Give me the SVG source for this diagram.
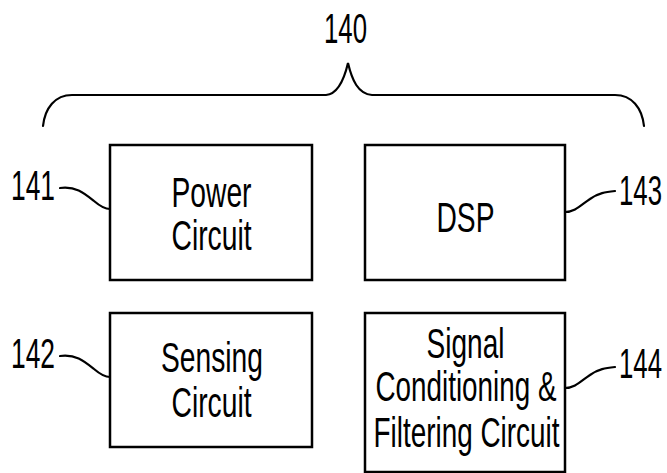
<svg xmlns="http://www.w3.org/2000/svg" width="667" height="473" viewBox="0 0 667 473">
<style>
.box{fill:#fff;stroke:#000;stroke-width:2.5}
.ln{fill:none;stroke:#000;stroke-width:2.2;stroke-linecap:round}
.t{font-family:"Liberation Sans",Arial,sans-serif;font-size:42px;fill:#000;text-anchor:middle}
.r{font-family:"Liberation Sans",Arial,sans-serif;font-size:42px;fill:#000}
</style>
<rect width="667" height="473" fill="#fff"/>
<g id="group140">
<path class="ln" d="M43,126 C45,108 55,95 72,95 L326,95 C338,94 344,80 348,63 C352,80 358,94 372,95 L615,95 C632,95 642,108 644,126"/>
<text class="r" x="324" y="43" textLength="43" lengthAdjust="spacingAndGlyphs">140</text>
</g>
<g id="connectors">
<path class="ln" d="M60,188 C76,186 84,193 94,201 C101,207 105,209 110,209"/>
<path class="ln" d="M60,356 C76,354 84,361 94,369 C101,375 105,377 110,377"/>
<path class="ln" d="M565,212 C575,212 581,205 590,199 C598,193 606,192 615,191"/>
<path class="ln" d="M565,388 C575,388 581,381 590,375 C598,369 606,368 615,367"/>
</g>
<g id="node141">
<rect class="box" x="110" y="145" width="202" height="135"/>
<text class="t" x="211.5" y="207" textLength="80" lengthAdjust="spacingAndGlyphs">Power</text>
<text class="t" x="211.5" y="250" textLength="80" lengthAdjust="spacingAndGlyphs">Circuit</text>
<text class="r" x="11" y="200" textLength="44" lengthAdjust="spacingAndGlyphs">141</text>
</g>
<g id="node142">
<rect class="box" x="110" y="313" width="202" height="134"/>
<text class="t" x="212" y="372" textLength="102" lengthAdjust="spacingAndGlyphs">Sensing</text>
<text class="t" x="211.5" y="417" textLength="80" lengthAdjust="spacingAndGlyphs">Circuit</text>
<text class="r" x="11" y="368" textLength="44" lengthAdjust="spacingAndGlyphs">142</text>
</g>
<g id="node143">
<rect class="box" x="365" y="145" width="200" height="135"/>
<text class="t" x="465.5" y="232" textLength="58" lengthAdjust="spacingAndGlyphs">DSP</text>
<text class="r" x="619" y="205" textLength="43" lengthAdjust="spacingAndGlyphs">143</text>
</g>
<g id="node144">
<rect class="box" x="365" y="313" width="200" height="159"/>
<text class="t" x="465.5" y="358" textLength="78" lengthAdjust="spacingAndGlyphs">Signal</text>
<text class="t" x="466" y="401" textLength="181" lengthAdjust="spacingAndGlyphs">Conditioning &amp;</text>
<text class="t" x="466.5" y="447" textLength="186" lengthAdjust="spacingAndGlyphs">Filtering Circuit</text>
<text class="r" x="619" y="378" textLength="43" lengthAdjust="spacingAndGlyphs">144</text>
</g>
</svg>
